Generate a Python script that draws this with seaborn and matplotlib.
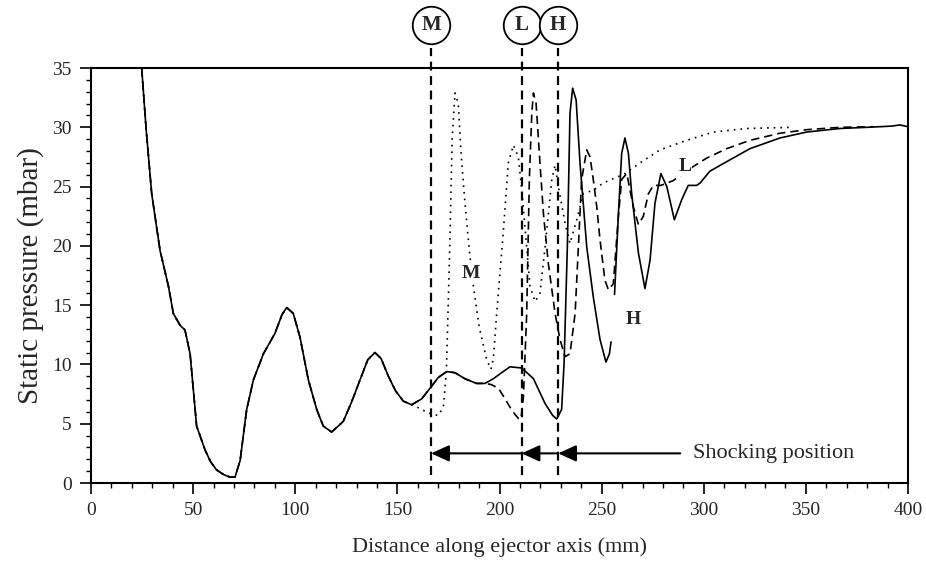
import pandas as pd
import seaborn as sns
import matplotlib.pyplot as plt
from matplotlib.ticker import MultipleLocator

# all three runs follow the same trace up to ~157 mm
base_x = [24.8, 27.0, 29.7, 33.8, 37.9, 40.3, 43.6, 46.0, 48.5, 51.7, 55.8, 58.5, 61.5, 65.0,
          68.0, 70.5, 73.0, 76.2, 79.5, 84.4, 90.0, 93.5, 95.8, 99.0, 102.3, 106.4, 110.5,
          113.7, 117.8, 121.0, 123.5, 127.5, 131.7, 135.5, 139.0, 142.0, 145.6, 149.0, 152.9, 157.0]
base_y = [35.0, 29.8, 24.4, 19.6, 16.6, 14.3, 13.3, 12.9, 10.9, 4.8, 2.8, 1.8, 1.1, 0.7,
          0.5, 0.5, 1.9, 6.2, 8.7, 10.9, 12.6, 14.2, 14.8, 14.3, 12.3, 8.7, 6.2,
          4.8, 4.3, 4.8, 5.2, 6.8, 8.7, 10.4, 11.0, 10.5, 9.0, 7.8, 6.9, 6.6]

# H and L stay together up to ~193 mm
hl_x = [161.9, 166.0, 170.0, 174.2, 178.2, 183.0, 188.8, 192.9]
hl_y = [7.1, 8.0, 8.9, 9.4, 9.3, 8.8, 8.4, 8.4]

# H (solid), two pieces
h1_x = [197.0, 201.0, 205.1, 210.9, 216.6, 222.3, 226.0, 228.0, 230.4, 231.6, 233.2, 234.5,
        235.8, 237.5, 239.4, 242.7, 245.9, 249.2, 252.1, 253.8, 254.6]
h1_y = [8.8, 9.3, 9.8, 9.7, 8.8, 6.7, 5.7, 5.4, 6.2, 10.1, 19.9, 31.2,
        33.3, 32.3, 27.0, 19.9, 15.7, 12.1, 10.2, 10.9, 11.9]
h2_x = [256.3, 258.2, 259.8, 261.4, 263.1, 264.7, 268.0, 271.2, 273.7, 276.1, 279.0, 281.9,
        285.6, 289.2, 292.4, 296.5, 298.2, 303.0, 311.2, 322.6, 337.3, 350.4, 366.7, 380.0,
        392.0, 396.0, 400.0]
h2_y = [15.9, 22.7, 27.8, 29.1, 27.8, 24.4, 19.4, 16.4, 18.8, 23.6, 26.1, 25.0,
        22.2, 23.9, 25.1, 25.1, 25.3, 26.3, 27.1, 28.2, 29.1, 29.6, 29.9, 30.0,
        30.1, 30.2, 30.05]

# L (dashed)
l_x = [196.0, 199.4, 202.0, 205.1, 207.5, 209.2, 210.5, 211.7, 213.3, 214.6, 215.8, 216.6,
       217.9, 219.8, 221.5, 223.9, 227.2, 229.6, 232.1, 234.5, 237.0, 238.6, 240.2, 242.7,
       244.3, 245.9, 247.6, 249.2, 251.6, 253.3, 255.7, 258.2, 259.8, 262.3, 265.5, 268.0,
       270.4, 272.9, 275.3, 279.0, 285.0, 290.0, 294.9, 301.4, 311.2, 322.6, 337.3, 350.4,
       366.7, 383.0]
l_y = [8.3, 8.0, 7.3, 6.4, 5.8, 5.45, 5.4, 7.3, 14.3, 25.6, 31.2, 32.9,
       32.0, 27.0, 22.7, 18.5, 14.3, 12.1, 10.65, 10.9, 14.3, 19.9, 25.6, 28.1,
       27.5, 25.6, 23.3, 20.5, 17.1, 16.3, 16.8, 22.5, 25.6, 26.1, 23.3, 21.8,
       22.5, 24.4, 25.1, 25.1, 25.5, 26.1, 26.7, 27.4, 28.2, 28.9, 29.5, 29.8,
       30.0, 30.05]

# M (dotted)
m_x = [161.0, 164.0, 167.0, 170.0, 172.5, 174.0, 175.5, 176.8, 178.2, 179.8, 180.7, 181.5,
       183.1, 185.2, 187.2, 190.0, 193.7, 195.8, 197.0, 198.6, 201.9, 204.3, 206.8, 209.2,
       210.9, 213.3, 214.9, 217.4, 219.8, 222.3, 225.6, 227.2, 228.8, 232.1, 234.5, 237.8,
       241.0, 245.9, 250.8, 257.4, 260.6, 268.8, 278.6, 291.6, 304.7, 321.0, 343.9]
m_y = [6.3, 6.0, 5.8, 5.7, 6.4, 9.5, 19.0, 29.0, 32.9, 32.0, 29.2, 27.0,
       23.6, 19.65, 16.6, 13.2, 10.4, 9.6, 10.5, 14.3, 21.3, 27.0, 28.5, 27.5,
       24.7, 19.9, 16.6, 15.3, 16.0, 19.9, 25.6, 26.8, 25.0, 21.9, 20.2, 22.2,
       24.4, 24.7, 25.3, 25.8, 26.0, 27.0, 28.1, 28.9, 29.6, 29.9, 30.0]

# shocking positions
shock_x = [166.5, 210.8, 228.7]
shock_names = ["M", "L", "H"]

frames = []
def add(name, seg, xs, ys):
    frames.append(pd.DataFrame({"x": xs, "y": ys, "run": name, "seg": seg}))

add("M", "M0", base_x + m_x, base_y + m_y)
add("L", "L0", base_x + hl_x + l_x, base_y + hl_y + l_y)
add("H", "H0", base_x + hl_x + h1_x, base_y + hl_y + h1_y)
add("H", "H1", h2_x, h2_y)
df = pd.concat(frames, ignore_index=True)

sns.set_theme(style="ticks")
plt.rcParams['font.family'] = ['Liberation Serif', 'DejaVu Serif']

fig = plt.figure(figsize=(9.26, 5.64), dpi=100)
ax = fig.add_axes([0.0983, 0.1436, 0.8823, 0.7358])

sns.lineplot(data=df, x="x", y="y", style="run", units="seg", estimator=None,
             dashes={"H": "", "L": (5, 3), "M": (1, 3)}, color="black",
             linewidth=1.2, sort=False, legend=False, ax=ax)

ax.set_xlim(0, 400)
ax.set_ylim(0, 35)
ax.xaxis.set_major_locator(MultipleLocator(50))
ax.xaxis.set_minor_locator(MultipleLocator(10))
ax.yaxis.set_major_locator(MultipleLocator(5))
ax.yaxis.set_minor_locator(MultipleLocator(1))
ax.tick_params(which="major", direction="out", length=8, width=1.2, labelsize=14, pad=6, color="black")
ax.tick_params(which="minor", direction="out", length=3.5, width=1.0, color="black")
for s in ax.spines.values():
    s.set_linewidth(1.5)
    s.set_color("black")
ax.set_xlabel("Distance along ejector axis (mm)", fontsize=16, labelpad=13)
ax.set_ylabel("Static pressure (mbar)", fontsize=21, labelpad=6)

# vertical marker lines with circled letters above the frame
for xv, nm in zip(shock_x, shock_names):
    ax.plot([xv, xv], [0.7, 36.7], color="black", lw=1.6, ls=(0, (4, 2.5)), clip_on=False)
    ax.plot([xv], [38.6], marker="o", ms=27, mfc="white", mec="black", mew=1.3, clip_on=False)
    ax.text(xv, 38.6, nm, ha="center", va="center", fontsize=15, fontweight="bold")

# shocking position arrows
arrow_y = 2.5
arrow_end = 288.5
starts = shock_x[1:] + [arrow_end]
for x0, x1 in zip(starts, shock_x):
    ax.annotate("", xy=(x1, arrow_y), xytext=(x0, arrow_y),
                arrowprops=dict(arrowstyle="-|>,head_length=0.55,head_width=0.25",
                                color="black", lw=1.5, shrinkA=0, shrinkB=0, mutation_scale=20))
ax.text(294.7, arrow_y, "Shocking position", fontsize=16, ha="left", va="center")

# curve labels
lab_kw = dict(fontsize=14, fontweight="bold", ha="center", va="center",
              bbox=dict(facecolor="white", edgecolor="none", pad=0.5))
ax.text(185.9, 17.7, "M", **lab_kw)
ax.text(290.8, 26.7, "L", **lab_kw)
ax.text(265.5, 13.75, "H", **lab_kw)

fig.savefig("out.png", dpi=100)
